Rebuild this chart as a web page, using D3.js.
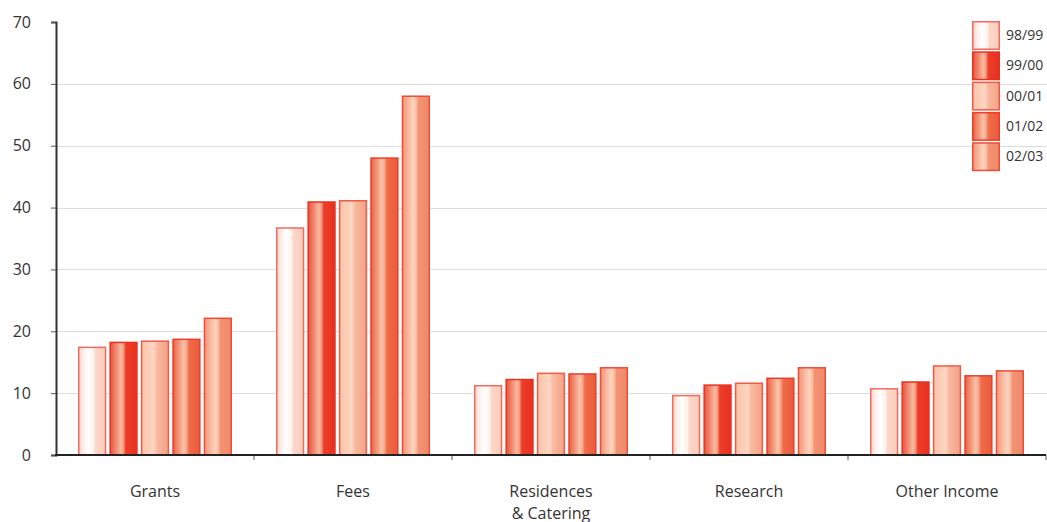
<!DOCTYPE html>
<html>
<head>
<meta charset="utf-8">
<script src="https://cdn.jsdelivr.net/npm/d3@7"></script>
<style>
  html, body { margin: 0; padding: 0; background: #fff; }
  svg { display: block; font-family: "Open Sans", "Noto Sans", sans-serif; }
</style>
</head>
<body>
<svg id="chart" width="1047" height="522"></svg>
<script>
// Income by source (percentage-scale values), one array per year
const categories = ["Grants", "Fees", "Residences\n& Catering", "Research", "Other Income"];
const years = ["98/99", "99/00", "00/01", "01/02", "02/03"];
const v9899 = [17.4, 36.7, 11.2, 9.6, 10.7];
const v9900 = [18.2, 40.9, 12.2, 11.3, 11.8];
const v0001 = [18.4, 41.1, 13.2, 11.6, 14.4];
const v0102 = [18.7, 48.0, 13.1, 12.4, 12.8];
const v0203 = [22.1, 58.0, 14.1, 14.1, 13.6];
const yTicks = [0, 10, 20, 30, 40, 50, 60, 70];

const seriesValues = [v9899, v9900, v0001, v0102, v0203];

// Shaded "cylinder" fills for each year: [offset, colour]
const gradStops = [
  [[0, "#fbd3c6"], [0.18, "#fff1eb"], [0.35, "#ffffff"], [0.55, "#fff3ee"], [0.62, "#fbd8ca"], [1, "#f9ccba"]],
  [[0, "#e8533c"], [0.22, "#f28a70"], [0.4, "#f8b9a1"], [0.5, "#f29a80"], [0.58, "#ec3e2a"], [1, "#e9301f"]],
  [[0, "#fbc3a8"], [0.3, "#fccfb9"], [0.45, "#fdd7c5"], [0.58, "#f8b99e"], [1, "#f4a285"]],
  [[0, "#ea6246"], [0.22, "#f49677"], [0.4, "#f9c3aa"], [0.5, "#f5a98d"], [0.6, "#ef6b4a"], [1, "#ec5b3a"]],
  [[0, "#f39376"], [0.22, "#f9b89e"], [0.4, "#fdd3be"], [0.5, "#fbc4aa"], [0.6, "#f29373"], [1, "#f08967"]]
];
const strokeCols = ["#f26b5f", "#e8301f", "#f25a47", "#ec3d2a", "#ef4b39"];

const svg = d3.select("#chart");
const W = 1047;
const plotLeft = 56, plotRight = 1046, plotTop = 22, plotBottom = 455;

const defs = svg.append("defs");
gradStops.forEach((stops, i) => {
  const g = defs.append("linearGradient")
    .attr("id", "grad" + i)
    .attr("x1", "0%").attr("x2", "100%").attr("y1", "0%").attr("y2", "0%");
  stops.forEach(s => g.append("stop").attr("offset", s[0]).attr("stop-color", s[1]));
});

const y = d3.scaleLinear().domain([0, 70]).range([plotBottom, plotTop]);
const x0 = d3.scaleBand().domain(categories).range([plotLeft, plotRight]).padding(0);
const x1 = d3.scaleBand().domain(years).range([22, 176]).paddingInner(0.1);

// Horizontal gridlines
svg.append("g")
  .selectAll("line")
  .data(yTicks.filter(t => t > 0 && t < 70))
  .join("line")
  .attr("x1", plotLeft).attr("x2", W)
  .attr("y1", d => Math.round(y(d)) + 0.5).attr("y2", d => Math.round(y(d)) + 0.5)
  .attr("stroke", "#dcdcdc").attr("stroke-width", 1);

// Bars
const groups = svg.append("g")
  .selectAll("g")
  .data(categories)
  .join("g")
  .attr("transform", d => `translate(${x0(d)},0)`);

groups.selectAll("rect")
  .data((c, ci) => years.map((yr, si) => ({ yr, si, v: seriesValues[si][ci] })))
  .join("rect")
  .attr("x", d => x1(d.yr) + 0.75)
  .attr("width", x1.bandwidth() - 1.5)
  .attr("y", d => y(d.v))
  .attr("height", d => plotBottom - y(d.v))
  .attr("fill", d => `url(#grad${d.si})`)
  .attr("stroke", d => strokeCols[d.si])
  .attr("stroke-width", 1.5);

// Y axis
const yAxis = d3.axisLeft(y).tickValues(yTicks).tickSize(5).tickPadding(20).tickFormat(d3.format("d"));
const ya = svg.append("g").attr("transform", `translate(${plotLeft},0)`).call(yAxis);
ya.select(".domain").attr("stroke", "#333").attr("stroke-width", 2);
ya.selectAll(".tick line").attr("stroke", "#555");
ya.selectAll(".tick text").attr("fill", "#333").style("font-size", "16px")
  .attr("font-family", "'Open Sans', 'Noto Sans', sans-serif");

// X axis with group separator ticks
const sepTicks = categories.map(c => x0(c) + x0.bandwidth());
svg.append("g")
  .selectAll("line")
  .data(sepTicks)
  .join("line")
  .attr("x1", d => d).attr("x2", d => d)
  .attr("y1", plotBottom).attr("y2", plotBottom + 5)
  .attr("stroke", "#555").attr("stroke-width", 1);
svg.append("line")
  .attr("x1", plotLeft - 1).attr("x2", plotRight)
  .attr("y1", plotBottom).attr("y2", plotBottom)
  .attr("stroke", "#222").attr("stroke-width", 2);

// Category labels
const labels = svg.append("g")
  .selectAll("text")
  .data(categories)
  .join("text")
  .attr("x", d => x0(d) + x0.bandwidth() / 2)
  .attr("y", 497)
  .attr("text-anchor", "middle")
  .attr("fill", "#333")
  .style("font-size", "16px");
labels.each(function (d) {
  const lines = d.split("\n");
  d3.select(this).selectAll("tspan")
    .data(lines)
    .join("tspan")
    .attr("x", x0(d) + x0.bandwidth() / 2)
    .attr("dy", (l, i) => i === 0 ? 0 : 22)
    .text(l => l);
});

// Legend
const lg = svg.append("g").attr("transform", "translate(972,21)");
const item = lg.selectAll("g")
  .data(years)
  .join("g")
  .attr("transform", (d, i) => `translate(0,${i * 30.3})`);
item.append("rect")
  .attr("x", 0.75).attr("y", 0.75)
  .attr("width", 26.5).attr("height", 27.5)
  .attr("fill", (d, i) => `url(#grad${i})`)
  .attr("stroke", (d, i) => strokeCols[i])
  .attr("stroke-width", 1.5);
item.append("text")
  .attr("x", 34).attr("y", 19)
  .attr("fill", "#333")
  .style("font-size", "14px")
  .text(d => d);
</script>
</body>
</html>
